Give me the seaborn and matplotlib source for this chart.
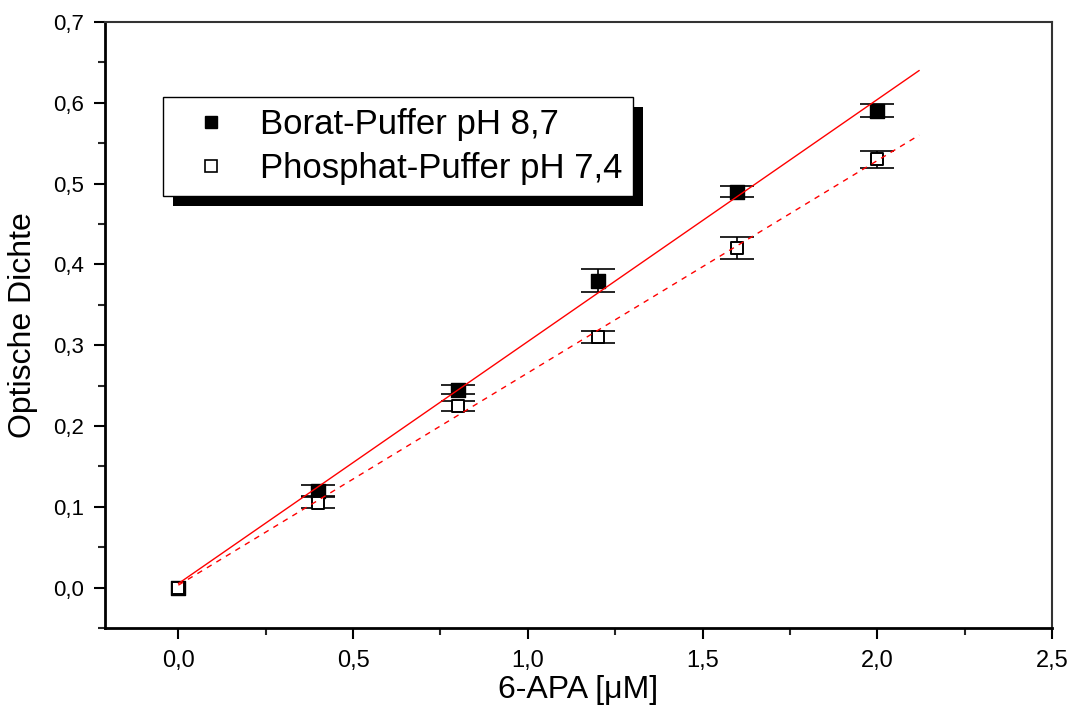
import matplotlib
matplotlib.use("Agg")
import matplotlib.pyplot as plt
import seaborn as sns
import pandas as pd
from matplotlib.patches import Rectangle
from matplotlib.lines import Line2D

# ---- data ----
conc = [0.0, 0.4, 0.8, 1.2, 1.6, 2.0]
borat = [0.0, 0.120, 0.245, 0.380, 0.490, 0.590]
borat_err = [float("nan"), 0.007, 0.006, 0.0145, 0.007, 0.008]
phosphat = [0.0, 0.105, 0.225, 0.310, 0.420, 0.530]
phosphat_err = [float("nan"), 0.007, 0.006, 0.007, 0.0135, 0.0105]
fit_x = [0.0, 2.12]
borat_fit = [0.005, 0.640]
phosphat_fit = [0.003, 0.560]
labels = ["Borat-Puffer pH 8,7", "Phosphat-Puffer pH 7,4"]
x_ticks = [0.0, 0.5, 1.0, 1.5, 2.0, 2.5]
x_tick_labels = ["0,0", "0,5", "1,0", "1,5", "2,0", "2,5"]
y_ticks = [0.0, 0.1, 0.2, 0.3, 0.4, 0.5, 0.6, 0.7]
y_tick_labels = ["0,0", "0,1", "0,2", "0,3", "0,4", "0,5", "0,6", "0,7"]

sns.set_theme(style="ticks")
plt.rcParams["font.family"] = ["Liberation Sans", "DejaVu Sans"]
plt.rcParams["text.color"] = "black"
plt.rcParams["axes.labelcolor"] = "black"

fig = plt.figure(figsize=(10.75, 7.07), dpi=100)
ax = fig.add_axes([105/1075, 1-628/707, (1052-105)/1075, (628-22)/707])

df_b = pd.DataFrame({"x": conc, "y": borat})
df_p = pd.DataFrame({"x": conc, "y": phosphat})

ax.errorbar(conc, borat, yerr=borat_err, fmt="none", ecolor="black",
            elinewidth=1.2, capsize=12, capthick=1.2, zorder=2)
ax.errorbar(conc, phosphat, yerr=phosphat_err, fmt="none", ecolor="black",
            elinewidth=1.2, capsize=12, capthick=1.2, zorder=2)

sns.scatterplot(data=df_b, x="x", y="y", marker="s", s=100, color="black",
                edgecolor="black", linewidth=1, ax=ax, zorder=3, legend=False)
sns.scatterplot(data=df_p, x="x", y="y", marker="s", s=80, color="white",
                edgecolor="black", linewidth=1.4, ax=ax, zorder=4, legend=False)

df_fb = pd.DataFrame({"x": fit_x, "y": borat_fit})
df_fp = pd.DataFrame({"x": fit_x, "y": phosphat_fit})
sns.lineplot(data=df_fb, x="x", y="y", color="red", linewidth=1.0, ax=ax, zorder=5)
sns.lineplot(data=df_fp, x="x", y="y", color="red", linewidth=1.0,
             linestyle=(0, (4, 4)), ax=ax, zorder=5)

ax.set_xlim(-0.21, 2.5)
ax.set_ylim(-0.05, 0.7)
ax.set_xticks(x_ticks)
ax.set_xticklabels(x_tick_labels, fontsize=17)
ax.set_yticks(y_ticks)
ax.set_yticklabels(y_tick_labels, fontsize=16)
ax.set_xticks([0.25, 0.75, 1.25, 1.75, 2.25], minor=True)
ax.set_yticks([-0.05, 0.05, 0.15, 0.25, 0.35, 0.45, 0.55, 0.65], minor=True)
ax.tick_params(axis="both", which="major", direction="out", length=8, width=1.5,
               colors="black")
ax.tick_params(axis="x", which="major", pad=8)
ax.tick_params(axis="y", which="major", pad=7)
ax.tick_params(axis="both", which="minor", direction="out", length=5, width=1.5)
for s in ["left", "bottom"]:
    ax.spines[s].set_linewidth(2)
    ax.spines[s].set_color("black")
for s in ["top", "right"]:
    ax.spines[s].set_visible(True)
    ax.spines[s].set_linewidth(1.5)
    ax.spines[s].set_color("#333333")

ax.set_xlabel("6-APA [μM]", fontsize=23, labelpad=2)
ax.set_ylabel("Optische Dichte", fontsize=23, labelpad=11)

handles = [
    Line2D([], [], marker="s", linestyle="none", markersize=9,
           markerfacecolor="black", markeredgecolor="black"),
    Line2D([], [], marker="s", linestyle="none", markersize=8,
           markerfacecolor="white", markeredgecolor="black", markeredgewidth=1.2),
]
leg = ax.legend(handles, labels, loc="upper left",
                bbox_to_anchor=((163-105)/947, (628-97)/606),
                borderaxespad=0, frameon=True, fancybox=False, fontsize=25,
                borderpad=0.33, labelspacing=0.3, handlelength=2.1,
                handletextpad=0.35)
frame = leg.get_frame()
frame.set_edgecolor("black")
frame.set_linewidth(1.0)
frame.set_facecolor("white")
frame.set_alpha(1)
leg.set_zorder(10)

fig.canvas.draw()
bb = leg.get_window_extent().transformed(ax.transAxes.inverted())
off_x = 10 / 947
off_y = 10 / 606
shadow = Rectangle((bb.x0 + off_x, bb.y0 - off_y), bb.width, bb.height,
                   transform=ax.transAxes, facecolor="black", edgecolor="none",
                   zorder=9)
ax.add_patch(shadow)

fig.savefig("out.png", dpi=100)
